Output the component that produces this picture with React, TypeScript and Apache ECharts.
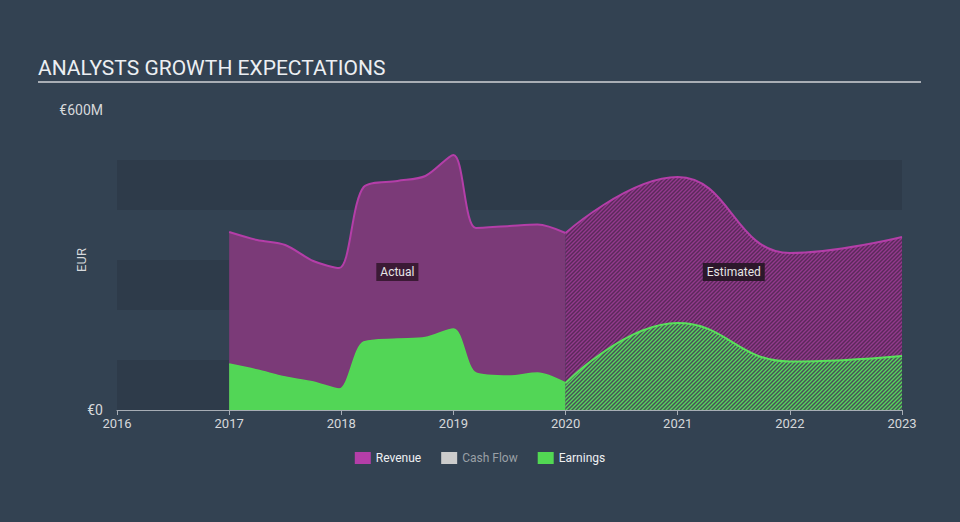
import React, { useEffect, useRef } from "react";
import * as echarts from "echarts";

const years = [2016, 2017, 2018, 2019, 2020, 2021, 2022, 2023];

// Revenue (EUR M)
const revenueActual: [number, number][] = [
  [2017.0, 356], [2017.25, 340], [2017.5, 330], [2017.75, 298], [2017.98, 284],
  [2018.2, 446], [2018.5, 458], [2018.75, 468], [2019.0, 510],
  [2019.2, 364], [2019.5, 368], [2019.75, 371], [2020.0, 354],
];
const revenueEstimated: [number, number][] = [
  [2020.0, 354], [2021.0, 466], [2022.0, 314], [2023.0, 346],
];
// Earnings (EUR M)
const earningsActual: [number, number][] = [
  [2017.0, 92], [2017.25, 80], [2017.5, 66], [2017.75, 56], [2017.98, 42],
  [2018.2, 136], [2018.5, 142], [2018.75, 145], [2019.0, 162],
  [2019.2, 74], [2019.5, 68], [2019.75, 74], [2020.0, 54],
];
const earningsEstimated: [number, number][] = [
  [2020.0, 54], [2021.0, 174], [2022.0, 97], [2023.0, 108],
];

const legendNames = ["Revenue", "Cash Flow", "Earnings"];

function makePattern(base: string, stripe: string) {
  const c = document.createElement("canvas");
  c.width = 4;
  c.height = 4;
  const ctx = c.getContext("2d")!;
  ctx.fillStyle = base;
  ctx.fillRect(0, 0, 4, 4);
  ctx.strokeStyle = stripe;
  ctx.lineWidth = 1.4;
  ctx.beginPath();
  ctx.moveTo(0, 4); ctx.lineTo(4, 0);
  ctx.moveTo(-1, 1); ctx.lineTo(1, -1);
  ctx.moveTo(3, 5); ctx.lineTo(5, 3);
  ctx.stroke();
  return { image: c, repeat: "repeat" };
}

export default function App() {
  const ref = useRef<HTMLDivElement>(null);
  useEffect(() => {
    document.body.style.margin = "0";
    const chart = echarts.init(ref.current!, undefined, { renderer: "svg" });
    const revColor = "#b43ea8";
    const earnColor = "#5ae05c";
    const revPattern = makePattern("#5a2a5a", "#93398d");
    const earnPattern = makePattern("#4a4d5a", "#55d85a");
    const font = "Roboto, 'Noto Sans', sans-serif";
    const labelBox = {
      show: true,
      position: "inside",
      formatter: "{b}",
      color: "#e6e6e6",
      fontSize: 12,
      padding: [3, 4],
    };
    chart.setOption({
      animation: false,
      backgroundColor: "#334252",
      textStyle: { fontFamily: font },
      graphic: [
        {
          type: "text",
          left: 38,
          top: 57,
          style: { text: "ANALYSTS GROWTH EXPECTATIONS", fill: "#eceff2", font: `21px ${font}` },
        },
        {
          type: "rect",
          shape: { x: 38, y: 81, width: 883, height: 2 },
          style: { fill: "#a9aeb5" },
        },
      ],
      grid: { left: 117, right: 58, top: 110, bottom: 112 },
      legend: {
        top: 447,
        left: "center",
        icon: "rect",
        itemWidth: 16,
        itemHeight: 12,
        itemGap: 20,
        textStyle: { color: "#eef0f2", fontSize: 12, fontWeight: "normal", fontFamily: font },
        data: [
          { name: legendNames[0], itemStyle: { color: revColor } },
          { name: legendNames[1], itemStyle: { color: "#cccccc" }, textStyle: { color: "#9aa0a6" } },
          { name: legendNames[2], itemStyle: { color: "#52d853" } },
        ],
      },
      xAxis: {
        type: "value",
        min: years[0],
        max: years[years.length - 1],
        interval: 1,
        axisLine: { lineStyle: { color: "#a7adb5", width: 1 } },
        axisTick: { show: true, length: 5, lineStyle: { color: "#a7adb5" } },
        axisLabel: { color: "#d6d8db", fontSize: 13, margin: 7, formatter: (v: number) => String(v) },
        splitLine: { show: false },
      },
      yAxis: {
        type: "value",
        min: 0,
        max: 600,
        interval: 100,
        name: "EUR",
        nameLocation: "middle",
        nameGap: 29,
        nameMoveOverlap: false,
        nameTextStyle: { color: "#d6d8db", fontSize: 13 },
        axisLine: { show: false },
        axisTick: { show: false },
        axisLabel: {
          color: "#d6d8db",
          fontSize: 14,
          margin: 14,
          formatter: (v: number) => (v === 0 ? "€0" : v === 600 ? "€600M" : ""),
        },
        splitLine: { show: false },
        splitArea: {
          show: true,
          areaStyle: { color: ["#2e3b4a", "#334252", "#2e3b4a", "#334252", "#2e3b4a", "rgba(0,0,0,0)"] },
        },
      },
      series: [
        {
          name: "Revenue",
          type: "line",
          data: revenueActual,
          smooth: 0.3,
          symbol: "none",
          lineStyle: { color: revColor, width: 2 },
          itemStyle: { color: revColor },
          areaStyle: { color: "#7b3a78", opacity: 1 },
          markPoint: {
            symbol: "rect",
            symbolSize: 0,
            data: [{ name: "Actual", coord: [2018.5, 276] }],
            label: { ...labelBox, backgroundColor: "#3b1a35" },
          },
        },
        {
          name: "Revenue",
          type: "line",
          data: revenueEstimated,
          smooth: 0.45,
          symbol: "none",
          lineStyle: { color: revColor, width: 2 },
          itemStyle: { color: revColor },
          areaStyle: { color: revPattern, opacity: 1 },
          markPoint: {
            symbol: "rect",
            symbolSize: 0,
            data: [{ name: "Estimated", coord: [2021.5, 276] }],
            label: { ...labelBox, backgroundColor: "#2c182b" },
          },
        },
        {
          name: "Cash Flow",
          type: "line",
          data: [],
          itemStyle: { color: "#cccccc" },
        },
        {
          name: "Earnings",
          type: "line",
          data: earningsActual,
          smooth: 0.3,
          symbol: "none",
          lineStyle: { color: "#52d853", width: 1.5 },
          itemStyle: { color: "#52d853" },
          areaStyle: { color: "#52d656", opacity: 1 },
        },
        {
          name: "Earnings",
          type: "line",
          data: earningsEstimated,
          smooth: 0.45,
          symbol: "none",
          lineStyle: { color: earnColor, width: 2 },
          itemStyle: { color: earnColor },
          areaStyle: { color: earnPattern, opacity: 1 },
        },
      ],
    });
    return () => chart.dispose();
  }, []);
  return <div ref={ref} style={{ width: 960, height: 522 }} />;
}
